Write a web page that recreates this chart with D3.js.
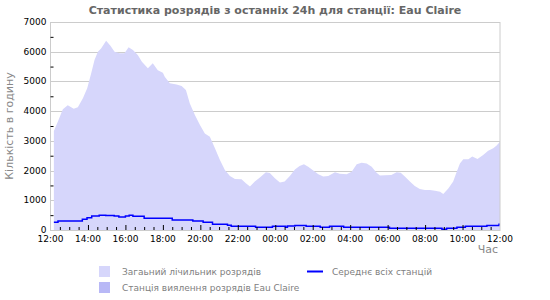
<!DOCTYPE html>
<html>
<head>
<meta charset="utf-8">
<script src="https://cdn.jsdelivr.net/npm/d3@7"></script>
<style>
  body { margin: 0; background: #fff; }
  svg { display: block; font-family: "DejaVu Sans", sans-serif; }
</style>
</head>
<body>
<svg id="chart" width="550" height="300"></svg>
<script>
// hours since 12:00 yesterday
const totalHours = [0.18, 0.39, 0.66, 0.92, 1.24, 1.46, 1.73, 1.96, 2.17, 2.35, 2.53, 2.7, 2.97, 3.2, 3.42, 3.69, 3.95,
  4.17, 4.4, 4.66, 4.88, 5.2, 5.46, 5.73, 6.0, 6.1, 6.37, 6.73, 7.0, 7.23, 7.44, 7.71, 7.98, 8.24, 8.51, 8.78, 9.04,
  9.31, 9.58, 9.85, 10.2, 10.43, 10.65, 10.91, 11.18, 11.5, 11.71, 11.98, 12.25, 12.5, 12.78, 13.05, 13.3, 13.53,
  13.76, 14.03, 14.3, 14.56, 14.83, 15.19, 15.45, 15.81, 16.08, 16.35, 16.61, 16.88, 17.15, 17.41, 17.59, 17.86,
  18.2, 18.48, 18.7, 18.92, 19.19, 19.45, 19.72, 19.99, 20.26, 20.53, 20.8, 20.97, 21.24, 21.5, 21.69, 21.86, 22.04,
  22.31, 22.52, 22.8, 23.1, 23.37, 23.64, 23.82, 24.0];
const totalCounts = [3330, 3640, 4060, 4200, 4080, 4130, 4430, 4770, 5270, 5720, 6000, 6110, 6370, 6200, 6000, 5950, 5950,
  6150, 6060, 5890, 5660, 5440, 5610, 5380, 5290, 5160, 4940, 4900, 4850, 4710, 4260, 3870, 3530, 3250, 3140, 2750, 2360,
  2020, 1820, 1720, 1710, 1570, 1460, 1630, 1770, 1940, 1920, 1740, 1600, 1630, 1820, 2040, 2150, 2210,
  2130, 2000, 1880, 1800, 1820, 1940, 1890, 1880, 1960, 2210, 2260, 2240, 2130, 1930, 1830, 1840,
  1850, 1940, 1930, 1800, 1630, 1480, 1380, 1350, 1350, 1320, 1290, 1210, 1400, 1630, 1960, 2240, 2380,
  2380, 2470, 2390, 2520, 2670, 2750, 2840, 2970];

// average of all stations (stepped)
const avgHours = [0.18, 0.4, 1.7, 1.95, 2.2, 2.6, 2.95, 3.4, 3.65, 4.0, 4.2, 4.4, 5.0, 6.5, 7.6, 8.15, 8.65, 9.45, 9.65,
  10.95, 11.85, 12.55, 12.65, 13.05, 13.65, 14.4, 14.9, 15.65, 18.1, 20.9, 21.15, 21.7, 22.15, 23.3, 23.95, 24.0];
const avgCounts = [260, 300, 360, 410, 470, 495, 490, 470, 440, 470, 495, 460, 395, 340, 300, 260, 190, 160, 125,
  90, 125, 90, 135, 155, 125, 90, 125, 90, 60, 25, 60, 90, 125, 155, 190, 190];

const yTicks = d3.range(0, 7001, 1000);
const xTickLabels = ["12:00", "14:00", "16:00", "18:00", "20:00", "22:00", "00:00", "02:00", "04:00", "06:00", "08:00", "10:00", "12:00"];

const legendItems = [
  { label: "Загаьний лічильник розрядів", type: "rect", color: "#d6d6fb" },
  { label: "Середнє всіх станцій", type: "line", color: "#0000ff" },
  { label: "Станція виялення розрядів Eau Claire", type: "rect", color: "#b8b8f6" }
];

const svg = d3.select("#chart");
const mLeft = 50.5, mRight = 500, mTop = 22, mBottom = 230;

const x = d3.scaleLinear().domain([0, 24]).range([mLeft, mRight]);
const y = d3.scaleLinear().domain([0, 7000]).range([mBottom, mTop]);

// gridlines
svg.append("g")
  .selectAll("line")
  .data(yTicks.slice(1, -1))
  .join("line")
  .attr("x1", mLeft).attr("x2", mRight)
  .attr("y1", d => Math.round(y(d)) + 0.5).attr("y2", d => Math.round(y(d)) + 0.5)
  .attr("stroke", "#cccccc");

// total count area
const area = d3.area()
  .x((d, i) => x(totalHours[i]))
  .y0(y(0))
  .y1(d => y(d));

svg.append("path")
  .datum(totalCounts)
  .attr("fill", "#d6d6fb")
  .attr("d", area);

// average line
const line = d3.line()
  .x((d, i) => x(avgHours[i]))
  .y(d => y(d))
  .curve(d3.curveStepAfter);

svg.append("path")
  .datum(avgCounts)
  .attr("fill", "none")
  .attr("stroke", "#0000ff")
  .attr("stroke-width", 1.5)
  .attr("d", line);

// border
svg.append("rect")
  .attr("x", mLeft).attr("y", mTop + 0.5)
  .attr("width", mRight - mLeft).attr("height", mBottom - mTop)
  .attr("fill", "none")
  .attr("stroke", "#cccccc");

// y axis: ticks inside, every 500
const yAxis = d3.axisRight(y)
  .tickValues(d3.range(500, 7000, 1000))
  .tickSize(3)
  .tickFormat("");
svg.append("g")
  .attr("transform", `translate(${mLeft},0)`)
  .call(yAxis)
  .call(g => g.select(".domain").remove())
  .selectAll("line").attr("stroke", "#000");

svg.append("g")
  .selectAll("text")
  .data(yTicks)
  .join("text")
  .attr("x", mLeft - 4)
  .attr("y", d => y(d) + 3)
  .attr("text-anchor", "end")
  .attr("font-size", 9)
  .attr("fill", "#000")
  .text(d => d);

// x axis: ticks inside, every 30 min, major every 2h
const xMinor = d3.axisTop(x)
  .tickValues(d3.range(0.5, 24, 0.5).filter(h => h % 2 !== 0))
  .tickSize(3)
  .tickFormat("");
svg.append("g")
  .attr("transform", `translate(0,${mBottom})`)
  .call(xMinor)
  .call(g => g.select(".domain").remove())
  .selectAll("line").attr("stroke", "#000");

const xMajor = d3.axisTop(x)
  .tickValues(d3.range(2, 24, 2))
  .tickSize(5)
  .tickFormat("");
svg.append("g")
  .attr("transform", `translate(0,${mBottom})`)
  .call(xMajor)
  .call(g => g.select(".domain").remove())
  .selectAll("line").attr("stroke", "#000");

svg.append("g")
  .selectAll("text")
  .data(xTickLabels)
  .join("text")
  .attr("x", (d, i) => x(i * 2))
  .attr("y", 242)
  .attr("text-anchor", "middle")
  .attr("font-size", 9)
  .attr("fill", "#000")
  .text(d => d);

// title and axis titles
svg.append("text")
  .attr("x", 275).attr("y", 14)
  .attr("text-anchor", "middle")
  .attr("font-size", 11)
  .attr("font-weight", "bold")
  .attr("fill", "#666")
  .text("Статистика розрядів з останніх 24h для станції: Eau Claire");

svg.append("text")
  .attr("x", 498).attr("y", 253)
  .attr("text-anchor", "end")
  .attr("font-size", 11)
  .attr("fill", "#888")
  .text("Час");

svg.append("text")
  .attr("transform", "translate(13,126) rotate(-90)")
  .attr("text-anchor", "middle")
  .attr("font-size", 11)
  .attr("fill", "#888")
  .text("Кількість в годину");

// legend
const legendPos = [[99, 266], [307, 266], [99, 282]];
const lg = svg.append("g");
legendItems.forEach((item, i) => {
  const [lx, ly] = legendPos[i];
  if (item.type === "rect") {
    lg.append("rect").attr("x", lx).attr("y", ly).attr("width", 11).attr("height", 11).attr("fill", item.color);
  } else {
    lg.append("line").attr("x1", lx).attr("x2", lx + 16).attr("y1", ly + 5.5).attr("y2", ly + 5.5)
      .attr("stroke", item.color).attr("stroke-width", 2);
  }
  lg.append("text")
    .attr("x", i === 1 ? lx + 25 : lx + 23)
    .attr("y", ly + 9)
    .attr("font-size", 9)
    .attr("fill", "#808080")
    .text(item.label);
});
</script>
</body>
</html>
